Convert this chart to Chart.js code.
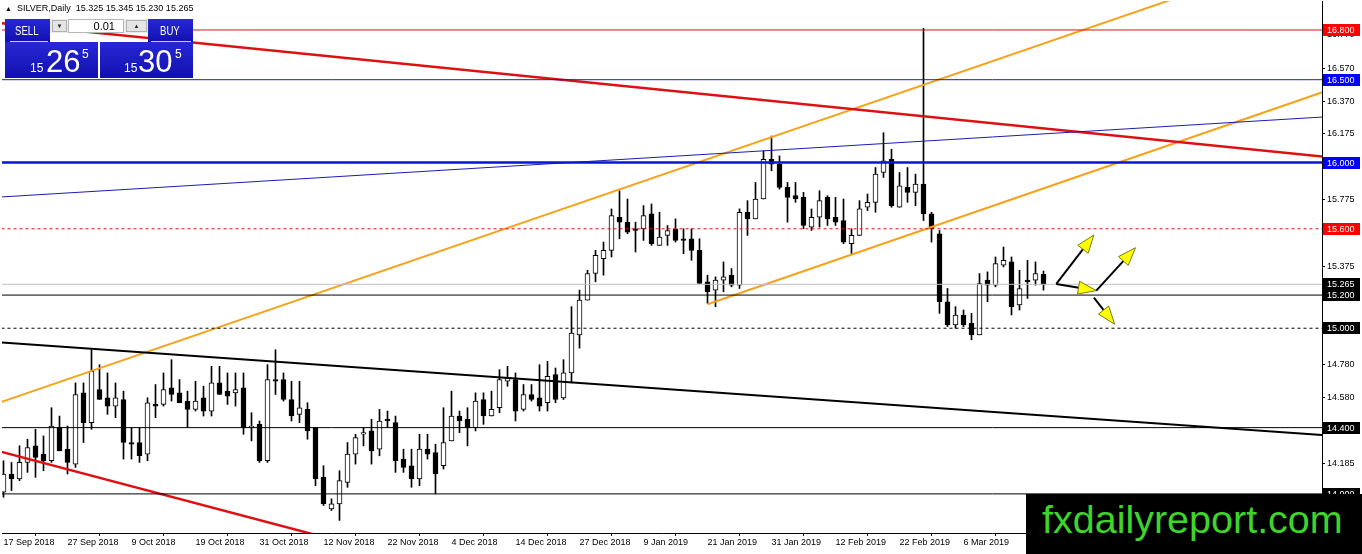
<!DOCTYPE html>
<html>
<head>
<meta charset="utf-8">
<title>SILVER, Daily</title>
<script src="https://cdn.jsdelivr.net/npm/chart.js@4.4.0/dist/chart.umd.min.js"></script>
<style>
  body { margin: 0; background: #fff; }
  #wrap { position: relative; width: 1362px; height: 554px; overflow: hidden; font-family: 'Liberation Sans', Arial, sans-serif; }
  #chart { position: absolute; left: 0; top: 0; }
  #title { position: absolute; left: 5px; top: 3px; font-size: 9px; line-height: 10px; white-space: pre; color: #000; }
  #title .tri { font-size: 7px; }
  .blue { position: absolute; background: linear-gradient(#2828d6, #1010b0); color: #fff; }
  .lbl { position: absolute; top: 6px; font-size: 12px; line-height: 12px; transform: scaleX(0.8); transform-origin: left top; }
  .uline { position: absolute; height: 1px; background: #c8c8f0; }
  .sm, .big, .sup { position: absolute; line-height: 1; }
  .sm { font-size: 12px; top: 20px; }
  .big { font-size: 31px; top: 4px; }
  .sup { font-size: 12px; top: 6px; }
  #spin { position: absolute; left: 50px; top: 19px; width: 98px; height: 14px; background: #ececec; }
  .sbtn { position: absolute; top: 1px; width: 15px; height: 12px; background: #e4e4e4; border: 1px solid #b0b0b0; box-sizing: border-box; font-size: 6px; line-height: 10px; text-align: center; color: #222; }
  #lot { position: absolute; left: 18px; top: 0; width: 56px; height: 14px; background: #fff; border: 1px solid #b8b8b8; box-sizing: border-box; font-size: 11px; line-height: 12px; text-align: right; padding-right: 8px; color: #000; }
  #logo { position: absolute; left: 1026px; top: 494px; width: 336px; height: 60px; background: #000; }
  #logo span { position: absolute; left: 16px; top: 6px; font-size: 39.5px; line-height: 1; color: #3ed42a; white-space: nowrap; }
</style>
</head>
<body>
<div id="wrap">
  <canvas id="chart"></canvas>
  <div id="title"><span class="tri">▲</span>  SILVER,Daily  15.325 15.345 15.230 15.265</div>

  <div class="blue" style="left:5px;top:19px;width:45px;height:23px;"><span class="lbl" style="left:10px;">SELL</span><div class="uline" style="left:5px;top:22px;width:38px;"></div></div>
  <div class="blue" style="left:5px;top:42px;width:93px;height:36px;">
    <span class="sm" style="left:25px;">15</span><span class="big" style="left:41px;">26</span><span class="sup" style="left:77px;">5</span>
  </div>
  <div class="blue" style="left:148px;top:19px;width:45px;height:23px;"><span class="lbl" style="left:12px;">BUY</span><div class="uline" style="left:3px;top:22px;width:40px;"></div></div>
  <div class="blue" style="left:100px;top:42px;width:93px;height:36px;">
    <span class="sm" style="left:24px;">15</span><span class="big" style="left:38px;">30</span><span class="sup" style="left:75px;">5</span>
  </div>
  <div id="spin">
    <div class="sbtn" style="left:2px;">▼</div>
    <div id="lot">0.01</div>
    <div class="sbtn" style="left:76px;width:21px;">▲</div>
  </div>

  <div id="logo"><span>fxdailyreport.com</span></div>
</div>

<script>
// daily bars, 17 Sep 2018 .. 20 Mar 2019 (bar index 0..130)
const open = [
  14.01, 14.12, 14.09, 14.19, 14.29, 14.24, 14.20, 14.40, 14.27, 14.18,
  14.61, 14.43, 14.63, 14.58, 14.53, 14.57, 14.31, 14.31, 14.24, 14.54,
  14.54, 14.64, 14.61, 14.56, 14.51, 14.58, 14.50, 14.67, 14.62, 14.61,
  14.64, 14.40, 14.42, 14.20, 14.69, 14.69, 14.57, 14.48, 14.51, 14.40,
  14.10, 13.91, 13.94, 14.07, 14.24, 14.36, 14.38, 14.27, 14.45, 14.43,
  14.21, 14.17, 14.09, 14.27, 14.25, 14.17, 14.32, 14.47, 14.45, 14.40,
  14.57, 14.47, 14.52, 14.68, 14.69, 14.51, 14.60, 14.58, 14.55, 14.72,
  14.58, 14.73, 14.96, 15.17, 15.33, 15.42, 15.47, 15.67, 15.64, 15.60,
  15.60, 15.69, 15.50, 15.56, 15.60, 15.54, 15.54, 15.47, 15.28, 15.23,
  15.29, 15.32, 15.26, 15.70, 15.66, 15.78, 16.02, 15.99, 15.85, 15.80,
  15.79, 15.61, 15.67, 15.79, 15.67, 15.65, 15.51, 15.56, 15.73, 15.76,
  15.94, 16.02, 15.73, 15.85, 15.82, 15.87, 15.69, 15.57, 15.16, 15.02,
  15.08, 15.03, 14.96, 15.29, 15.26, 15.38, 15.40, 15.14, 15.29, 15.29,
  15.325
];
const high = [
  14.20, 14.19, 14.29, 14.33, 14.39, 14.35, 14.52, 14.47, 14.41, 14.67,
  14.67, 14.87, 14.78, 14.73, 14.67, 14.62, 14.40, 14.40, 14.58, 14.66,
  14.73, 14.81, 14.69, 14.62, 14.68, 14.65, 14.77, 14.77, 14.73, 14.73,
  14.73, 14.49, 14.44, 14.78, 14.87, 14.73, 14.68, 14.68, 14.55, 14.40,
  14.17, 13.97, 14.14, 14.31, 14.36, 14.40, 14.45, 14.51, 14.50, 14.47,
  14.27, 14.27, 14.36, 14.36, 14.30, 14.52, 14.62, 14.50, 14.52, 14.61,
  14.61, 14.62, 14.75, 14.77, 14.73, 14.66, 14.66, 14.78, 14.80, 14.76,
  14.81, 15.13, 15.23, 15.35, 15.47, 15.52, 15.72, 15.83, 15.78, 15.64,
  15.74, 15.75, 15.70, 15.62, 15.66, 15.60, 15.60, 15.54, 15.32, 15.31,
  15.40, 15.36, 15.72, 15.77, 15.88, 16.07, 16.16, 16.04, 15.88, 15.88,
  15.82, 15.72, 15.83, 15.80, 15.79, 15.78, 15.60, 15.77, 15.81, 15.97,
  16.18, 16.08, 15.94, 15.97, 15.93, 16.81, 15.70, 15.59, 15.24, 15.13,
  15.11, 15.09, 15.33, 15.34, 15.43, 15.49, 15.43, 15.35, 15.41, 15.40,
  15.345
];
const low = [
  13.98, 14.02, 14.08, 14.13, 14.10, 14.14, 14.19, 14.26, 14.12, 14.16,
  14.31, 14.39, 14.57, 14.48, 14.46, 14.21, 14.21, 14.19, 14.20, 14.46,
  14.53, 14.56, 14.55, 14.40, 14.50, 14.47, 14.47, 14.60, 14.54, 14.53,
  14.36, 14.32, 14.19, 14.19, 14.60, 14.56, 14.44, 14.43, 14.33, 14.05,
  13.93, 13.90, 13.84, 14.04, 14.18, 14.29, 14.18, 14.23, 14.40, 14.13,
  14.13, 14.04, 14.05, 14.21, 14.00, 14.15, 14.32, 14.37, 14.29, 14.38,
  14.42, 14.47, 14.49, 14.65, 14.44, 14.50, 14.56, 14.50, 14.50, 14.55,
  14.57, 14.67, 14.88, 15.17, 15.28, 15.32, 15.43, 15.54, 15.57, 15.46,
  15.53, 15.50, 15.50, 15.50, 15.52, 15.45, 15.41, 15.27, 15.15, 15.13,
  15.22, 15.25, 15.24, 15.56, 15.66, 15.78, 15.95, 15.84, 15.64, 15.76,
  15.60, 15.59, 15.61, 15.62, 15.62, 15.51, 15.45, 15.56, 15.71, 15.70,
  15.91, 15.73, 15.73, 15.76, 15.74, 15.65, 15.52, 15.09, 15.01, 15.00,
  15.01, 14.93, 14.96, 15.16, 15.25, 15.37, 15.08, 15.11, 15.18, 15.26,
  15.23
];
const close = [
  14.12, 14.09, 14.19, 14.28, 14.22, 14.20, 14.41, 14.26, 14.19, 14.60,
  14.43, 14.74, 14.57, 14.53, 14.58, 14.31, 14.30, 14.23, 14.55, 14.53,
  14.63, 14.60, 14.55, 14.51, 14.56, 14.50, 14.67, 14.60, 14.59, 14.63,
  14.40, 14.41, 14.20, 14.69, 14.68, 14.57, 14.47, 14.52, 14.38, 14.09,
  13.94, 13.94, 14.08, 14.24, 14.34, 14.37, 14.26, 14.44, 14.44, 14.20,
  14.16, 14.09, 14.27, 14.24, 14.12, 14.31, 14.47, 14.44, 14.40, 14.56,
  14.47, 14.51, 14.69, 14.70, 14.50, 14.60, 14.57, 14.53, 14.71, 14.57,
  14.73, 14.97, 15.17, 15.33, 15.44, 15.47, 15.68, 15.64, 15.58, 15.59,
  15.68, 15.51, 15.55, 15.59, 15.53, 15.53, 15.47, 15.27, 15.22, 15.29,
  15.31, 15.26, 15.70, 15.66, 15.78, 16.02, 15.99, 15.85, 15.79, 15.78,
  15.62, 15.67, 15.77, 15.66, 15.64, 15.52, 15.56, 15.72, 15.76, 15.93,
  16.01, 15.74, 15.86, 15.82, 15.87, 15.69, 15.60, 15.16, 15.02, 15.08,
  15.02, 14.96, 15.27, 15.26, 15.39, 15.41, 15.13, 15.24, 15.28, 15.33,
  15.265
];

const xTickIndex = [0, 8, 16, 24, 32, 40, 48, 56, 64, 72, 80, 88, 96, 104, 112, 120];
const xTickLabels = ['17 Sep 2018', '27 Sep 2018', '9 Oct 2018', '19 Oct 2018', '31 Oct 2018',
  '12 Nov 2018', '22 Nov 2018', '4 Dec 2018', '14 Dec 2018', '27 Dec 2018', '9 Jan 2019',
  '21 Jan 2019', '31 Jan 2019', '12 Feb 2019', '22 Feb 2019', '6 Mar 2019'];
const yTickValues = [16.770, 16.570, 16.370, 16.175, 15.975, 15.775, 15.575, 15.375,
  15.180, 14.980, 14.780, 14.580, 14.380, 14.185, 13.985];

// horizontal price levels
const levelPrices = [16.8, 16.5, 16.0, 15.6, 15.265, 15.2, 15.0, 14.4, 14.0];
const levelColors = ['#e01010', '#1a1ab8', '#0a14d8', '#e01010', '#c0c0c0', '#000', '#000', '#000', '#000'];
const levelWidths = [1, 1, 2.5, 1, 1, 1, 1, 1, 1];
const levelDashed = [false, false, false, true, false, false, true, false, false];
const levelBoxColors = ['#ff0000', '#0000ff', '#0000ff', '#ff0000', '#000', '#000', '#000', '#000', '#000'];

// trend lines as [bar index, price] end points
const orangeUpper = [[-1, 14.543], [150, 17.05]];
const orangeLower = [[88, 15.145], [170, 16.51]];
const redUpper = [[-1, 16.845], [166, 16.03]];
const blueDiag = [[-1, 15.79], [166, 16.278]];
const blackDiag = [[-1, 14.916], [166, 14.352]];
const redLower = [[-1, 14.263], [40, 13.74]];

// yellow arrows [fromIdx, fromPrice, toIdx, toPrice]
const arrows = [
  [131.6, 15.267, 136.3, 15.563],
  [131.6, 15.267, 136.6, 15.227],
  [136.6, 15.227, 141.5, 15.486],
  [136.3, 15.184, 138.9, 15.024]
];

const idx = close.map((_, i) => i);

function lineSet(pts, color, width, dash) {
  return {
    type: 'line',
    data: pts.map(p => ({ x: p[0], y: p[1] })),
    borderColor: color,
    borderWidth: width,
    borderDash: dash || [],
    pointRadius: 0,
    fill: false,
    order: 0
  };
}

const levelSets = levelPrices.map((p, k) =>
  lineSet([[-1, p], [166, p]], levelColors[k], levelWidths[k], levelDashed[k] ? [3, 3] : []));

const trendSets = [
  lineSet(blueDiag, '#1c1cb0', 1),
  lineSet(blackDiag, '#000', 2),
  lineSet(redUpper, '#dd1111', 2.5),
  lineSet(redLower, '#dd1111', 2.5),
  lineSet(orangeUpper, '#f7a21b', 2),
  lineSet(orangeLower, '#f7a21b', 2)
];

const levelLabels = {
  id: 'levelLabels',
  afterDraw(chart) {
    const { ctx, chartArea } = chart;
    const y = chart.scales.y;
    ctx.save();
    ctx.font = "9px 'Liberation Sans', Arial";
    ctx.textBaseline = 'middle';
    ctx.textAlign = 'left';
    levelPrices.forEach((p, k) => {
      const py = Math.round(y.getPixelForValue(p));
      ctx.fillStyle = levelBoxColors[k];
      ctx.fillRect(chartArea.right + 1, py - 6, 37, 12);
      ctx.fillStyle = '#fff';
      ctx.fillText(p.toFixed(3), chartArea.right + 5, py + 0.5);
    });
    ctx.restore();
  }
};

const arrowPlugin = {
  id: 'arrowPlugin',
  afterDatasetsDraw(chart) {
    const { ctx } = chart;
    const { x, y } = chart.scales;
    ctx.save();
    arrows.forEach(a => {
      const x1 = x.getPixelForValue(a[0]), y1 = y.getPixelForValue(a[1]);
      const x2 = x.getPixelForValue(a[2]), y2 = y.getPixelForValue(a[3]);
      const ang = Math.atan2(y2 - y1, x2 - x1);
      ctx.strokeStyle = '#000';
      ctx.lineWidth = 2;
      ctx.beginPath();
      ctx.moveTo(x1, y1);
      ctx.lineTo(x2 - 10 * Math.cos(ang), y2 - 10 * Math.sin(ang));
      ctx.stroke();
      // arrow head
      const len = 18, half = 6.5;
      const bx = x2 - len * Math.cos(ang), by = y2 - len * Math.sin(ang);
      ctx.beginPath();
      ctx.moveTo(x2, y2);
      ctx.lineTo(bx + half * Math.sin(ang), by - half * Math.cos(ang));
      ctx.lineTo(bx - half * Math.sin(ang), by + half * Math.cos(ang));
      ctx.closePath();
      ctx.fillStyle = '#ffff00';
      ctx.fill();
      ctx.lineWidth = 1;
      ctx.strokeStyle = '#7a7a10';
      ctx.stroke();
    });
    ctx.restore();
  }
};

const tickFont = { family: "'Liberation Sans', Arial", size: 9 };

new Chart(document.getElementById('chart'), {
  type: 'bar',
  data: {
    datasets: [
      ...levelSets,
      ...trendSets,
      {
        label: 'body',
        data: idx.map(i => ({ x: i, y: [open[i], close[i]] })),
        backgroundColor: idx.map(i => close[i] > open[i] ? '#fff' : '#000'),
        borderColor: '#000',
        borderWidth: 1,
        borderSkipped: false,
        barThickness: 5,
        minBarLength: 1,
        grouped: false,
        order: 1
      },
      {
        label: 'wick',
        data: idx.map(i => ({ x: i, y: [low[i], high[i]] })),
        backgroundColor: '#000',
        barThickness: 1,
        grouped: false,
        order: 2
      }
    ]
  },
  options: {
    responsive: true,
    maintainAspectRatio: false,
    animation: false,
    events: [],
    layout: { padding: { top: 1, left: 2, right: 0, bottom: 0 } },
    plugins: { legend: { display: false }, tooltip: { enabled: false } },
    scales: {
      x: {
        type: 'linear',
        offset: false,
        min: -0.1875,
        max: 164.8125,
        afterBuildTicks: s => { s.ticks = xTickIndex.map(v => ({ value: v })); },
        afterFit: s => { s.height = 21; s.paddingLeft = 0; s.paddingRight = 0; },
        ticks: {
          autoSkip: false,
          maxRotation: 0,
          align: 'start',
          padding: 1,
          color: '#000',
          font: tickFont,
          callback: (v, k) => xTickLabels[k]
        },
        grid: { drawOnChartArea: false, drawTicks: true, tickLength: 3, color: '#000' },
        border: { display: true, color: '#000' }
      },
      y: {
        position: 'right',
        min: 13.764,
        max: 16.975,
        afterBuildTicks: s => { s.ticks = yTickValues.map(v => ({ value: v })); },
        afterFit: s => { s.width = 40; s.paddingTop = 0; s.paddingBottom = 0; },
        ticks: {
          padding: 2,
          color: '#000',
          font: tickFont,
          callback: v => v.toFixed(3)
        },
        grid: { drawOnChartArea: false, drawTicks: true, tickLength: 3, color: '#000' },
        border: { display: true, color: '#000' }
      }
    }
  },
  plugins: [arrowPlugin, levelLabels]
});
</script>
</body>
</html>
